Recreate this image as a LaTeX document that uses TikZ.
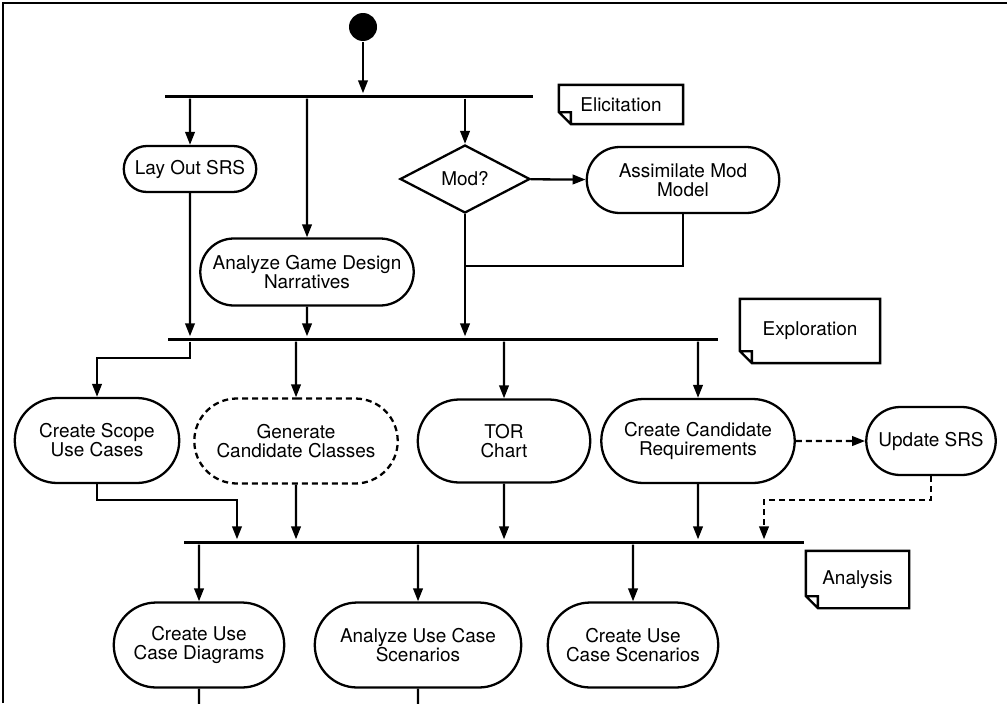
\documentclass[tikz,border=0pt]{standalone}
\usepackage{fontspec}
\setmainfont{TeX Gyre Heros}
\usetikzlibrary{arrows.meta, shapes.geometric, shapes.misc}
\tikzset{>={Triangle[length=0.26cm, width=0.19cm]}, activity/.style={draw, rounded rectangle, align=center, inner sep=1pt}, bar/.style={fill=black, inner sep=0pt, minimum height=0.06cm}, note/.style={align=center, inner sep=0pt}, dashline/.style={dash pattern=on 0.12cm off 0.08cm}}

\begin{document}
\begin{tikzpicture}[x=0.02cm, y=-0.02cm, line width=1.3pt, every node/.style={font=\fontsize{10.8}{10.8}\selectfont}]
	\def \fold {0.24cm} %corner of the notes
	\useasboundingbox (0,0) rectangle (1007,703);
	\draw (3,703) -- (3,3) -- (1007,3);
	% elicitation
	\node[circle, fill=black, minimum size=0.56cm, inner sep=0pt] at (363,27) (start) {};
	\node[bar, minimum width=7.36cm] at (349,96) (bar1) {};
	\node[note, minimum width=2.44cm, minimum height=0.74cm] at (621,104.5) (elic) {Elicitation};
	\node[activity, minimum width=2.72cm, minimum height=0.92cm] at (190,169) (layout) {Lay Out SRS};
	\node[activity, minimum width=4.34cm, minimum height=1.34cm] at (307,272) (agdn) {Analyze Game Design\\Narratives};
	\node[draw, diamond, shape aspect=2, inner sep=1pt, minimum width=2.6cm, minimum height=1.36cm] at (465,179) (mod) {Mod?};
	\node[activity, minimum width=3.92cm, minimum height=1.32cm] at (683,180) (assim) {Assimilate Mod\\Model};
	\coordinate (merge) at (465,266);
	% exploration
	\node[bar, minimum width=11cm] at (443,339) (bar2) {};
	\node[note, minimum width=2.76cm, minimum height=1.24cm] at (810,331) (expl) {Exploration};
	\node[activity, minimum width=3.36cm, minimum height=1.7cm] at (97,440.5) (scope) {Create Scope\\Use Cases};
	\node[activity, dashline, minimum width=4.14cm, minimum height=1.7cm] at (296,441) (gcc) {Generate\\Candidate Classes};
	\node[activity, minimum width=3.52cm, minimum height=1.66cm] at (504,441) (tor) {TOR\\Chart};
	\node[activity, minimum width=3.94cm, minimum height=1.68cm] at (698,441) (ccr) {Create Candidate\\Requirements};
	\node[activity, minimum width=2.66cm, minimum height=1.36cm] at (931,441) (usrs) {Update SRS};
	\coordinate (scopefork) at (190,358);
	\coordinate (scopejoin) at (237,500);
	\coordinate (usrsjoin) at (764,500);
	% analysis
	\node[bar, minimum width=12.4cm] at (494,542) (bar3) {};
	\node[note, minimum width=2.02cm, minimum height=1.1cm] at (857.5,579.5) (anal) {Analysis};
	\node[activity, minimum width=3.48cm, minimum height=1.7cm] at (199,645) (cucd) {Create Use\\Case Diagrams};
	\node[activity, minimum width=4.2cm, minimum height=1.7cm] at (418,645) (aucs) {Analyze Use Case\\Scenarios};
	\node[activity, minimum width=3.48cm, minimum height=1.7cm] at (633,645) (cucs) {Create Use\\Case Scenarios};
	\coordinate (bottom) at (0,705);
	\foreach \n in {elic, expl, anal}
		\draw (\n.north west) -- (\n.north east) -- (\n.south east) -- ([xshift=\fold]\n.south west) -- ([yshift=\fold]\n.south west) -- cycle
			([yshift=\fold]\n.south west) -- ([shift={(\fold,\fold)}]\n.south west) -- ([xshift=\fold]\n.south west);
	\draw[->] (start) -- (start |- bar1.north);
	\foreach \n in {layout, agdn, mod}
		\draw[->] (\n |- bar1.south) -- (\n);
	\draw[->] (mod) -- (assim);
	\draw (assim.south) |- (merge);
	\draw[->] (mod.south) -- (mod.south |- bar2.north);
	\draw[->] (layout) -- (layout |- bar2.north);
	\draw[->] (agdn) -- (agdn |- bar2.north);
	\draw[->] (scopefork |- bar2.south) -- (scopefork) -| (scope);
	\foreach \n in {gcc, tor, ccr}
		\draw[->] (\n |- bar2.south) -- (\n);
	\draw[->, dashline] (ccr) -- (usrs);
	\draw[->, dashline] (usrs.south) |- (usrsjoin) -- (usrsjoin |- bar3.north);
	\draw[->] (scope.south) |- (scopejoin) -- (scopejoin |- bar3.north);
	\foreach \n in {gcc, tor, ccr}
		\draw[->] (\n) -- (\n |- bar3.north);
	\foreach \n in {cucd, aucs, cucs}
		\draw[->] (\n |- bar3.south) -- (\n);
	\draw (cucd) -- (cucd |- bottom);
	\draw (aucs) -- (aucs |- bottom);
\end{tikzpicture}
\end{document}
